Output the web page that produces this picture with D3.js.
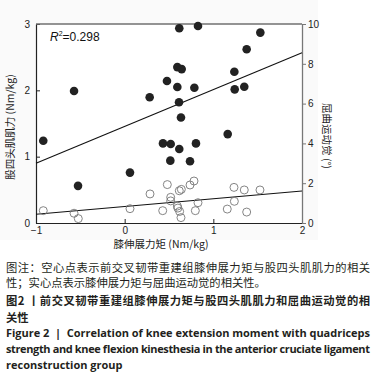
<!DOCTYPE html>
<html><head><meta charset="utf-8">
<script src="https://cdn.jsdelivr.net/npm/d3@7"></script>
<style>
html,body{margin:0;padding:0;background:#fff;}
svg{display:block;}
</style></head>
<body>
<script>
// Filled points: knee extension moment vs quadriceps strength (left axis)
const filledX = [0.616,0.827,1.53,1.376,0.594,0.643,1.237,0.477,-0.571,0.594,0.786,1.241,1.349,0.282,0.613,0.635,-0.918,0.432,0.519,0.804,1.162,0.616,0.515,0.737,0.060,-0.526];
const filledY = [2.935,2.97,2.87,2.62,2.35,2.32,2.28,2.14,1.99,2.05,2.04,2.015,2.055,1.895,1.82,1.59,1.24,1.20,1.19,1.20,1.34,1.115,0.94,0.93,0.76,0.56];
// Hollow points: knee extension moment vs flexion kinesthesia (right axis)
const hollowX = [-0.918,-0.571,-0.523,0.060,0.286,0.429,0.481,0.519,0.519,0.594,0.600,0.620,0.635,0.616,0.639,0.737,0.782,0.797,0.827,1.157,1.233,1.237,1.349,1.376,1.526];
const hollowY = [0.62,0.49,0.22,0.72,1.46,0.62,1.93,1.29,1.11,0.85,0.75,0.58,0.27,1.62,1.69,1.91,2.11,0.62,1.02,0.70,1.79,1.09,1.66,0.55,1.66];
// Regression line endpoints
const fitX = [-1, 2];
const fitFilled = [0.90, 2.567];
const fitHollow = [0.44, 1.61];
// Ticks
const xTicks = [-1,0,1,2];
const leftTicks = [0,1,2,3];
const rightTicks = [0,2,4,6,8,10];
const r2Text = "=0.298";
const xTitle = "膝伸展力矩 (Nm/kg)";
const leftTitle = "股四头肌肌力 (Nm/kg)";
const rightTitle = "屈曲运动觉 (°)";
const captionLines = [
  {t:"图注：空心点表示前交叉韧带重建组膝伸展力矩与股四头肌肌力的相关", bold:false, just:true},
  {t:"性；实心点表示膝伸展力矩与屈曲运动觉的相关性。", bold:false, just:false},
  {t:"图2 丨前交叉韧带重建组膝伸展力矩与股四头肌肌力和屈曲运动觉的相", bold:true, just:true},
  {t:"关性", bold:true, just:false},
  {t:"Figure 2\u00a0\u00a0|\u00a0\u00a0Correlation of knee extension moment with quadriceps", bold:true, just:true, en:true},
  {t:"strength and knee flexion kinesthesia in the anterior cruciate ligament", bold:true, just:true, en:true},
  {t:"reconstruction group", bold:true, just:false, en:true}
];

const W = 382, H = 386;
const svg = d3.select("body").append("svg").attr("width", W).attr("height", H);
svg.append("rect").attr("x",0).attr("y",0).attr("width",318).attr("height",240).attr("fill","#fafafa");

const x = d3.scaleLinear().domain([-1,2]).range([36,302]);
const yL = d3.scaleLinear().domain([0,3]).range([223,24]);
const yR = d3.scaleLinear().domain([0,10]).range([223,24]);

svg.append("rect").attr("x",x(-1)).attr("y",yL(3)).attr("width",x(2)-x(-1)).attr("height",yL(0)-yL(3)).attr("fill","#fff");

const fontAx = "'Liberation Sans', Arial, sans-serif";

const gL = svg.append("g").attr("transform",`translate(${x(-1)},0)`)
  .call(d3.axisLeft(yL).tickValues(leftTicks).tickFormat(d3.format("d")).tickSizeInner(-4).tickSizeOuter(0).tickPadding(6));
const gB = svg.append("g").attr("transform",`translate(0,${yL(0)})`)
  .call(d3.axisBottom(x).tickValues(xTicks).tickFormat(d3.format("d")).tickSizeInner(-4).tickSizeOuter(0).tickPadding(4));
const gR = svg.append("g").attr("transform",`translate(${x(2)},0)`)
  .call(d3.axisRight(yR).tickValues(rightTicks).tickFormat(d3.format("d")).tickSizeInner(4).tickSizeOuter(0).tickPadding(2));
[gL,gB,gR].forEach(g=>{
  g.selectAll("text").attr("font-family",fontAx).attr("font-size",10).attr("fill","#222");
});
gL.select(".domain").attr("stroke","#222").attr("stroke-width",1.2);
gB.select(".domain").attr("stroke","#222").attr("stroke-width",1.2);
gR.select(".domain").attr("stroke","#777").attr("stroke-width",1.3);
gL.selectAll(".tick line").attr("stroke","#222");
gB.selectAll(".tick line").attr("stroke","#222");
gR.selectAll(".tick line").attr("stroke","#777");
svg.append("line").attr("x1",x(-1)).attr("x2",x(2)).attr("y1",yL(3)).attr("y2",yL(3)).attr("stroke","#707070").attr("stroke-width",1.6);

svg.append("line").attr("x1",x(fitX[0])).attr("x2",x(fitX[1])).attr("y1",yL(fitFilled[0])).attr("y2",yL(fitFilled[1])).attr("stroke","#111").attr("stroke-width",1.1);
svg.append("line").attr("x1",x(fitX[0])).attr("x2",x(fitX[1])).attr("y1",yR(fitHollow[0])).attr("y2",yR(fitHollow[1])).attr("stroke","#111").attr("stroke-width",1.1);

svg.append("g").selectAll("circle").data(d3.range(hollowX.length)).join("circle")
  .attr("cx",i=>x(hollowX[i])).attr("cy",i=>yR(hollowY[i])).attr("r",4)
  .attr("fill","none").attr("stroke","#777").attr("stroke-width",0.9);
svg.append("g").selectAll("circle").data(d3.range(filledX.length)).join("circle")
  .attr("cx",i=>x(filledX[i])).attr("cy",i=>yL(filledY[i])).attr("r",4.3)
  .attr("fill","#222");

const r2 = svg.append("text").attr("x",50).attr("y",41).attr("font-family",fontAx).attr("font-size",12).attr("fill","#111");
r2.append("tspan").attr("font-style","italic").text("R");
r2.append("tspan").attr("font-size",7).attr("dy",-5).text("2");
r2.append("tspan").attr("dy",5).text(r2Text);

const cjk = "'Noto Sans CJK SC', 'Noto Sans', sans-serif";
svg.append("text").attr("x",161).attr("y",248).attr("text-anchor","middle").attr("font-family",cjk).attr("font-size",10.5).attr("fill","#222").text(xTitle);
svg.append("text").attr("transform","translate(14,127) rotate(-90)").attr("text-anchor","middle").attr("font-family",cjk).attr("font-size",10.5).attr("fill","#222").text(leftTitle);
svg.append("text").attr("transform","translate(323,136) rotate(90)").attr("text-anchor","middle").attr("font-family",cjk).attr("font-size",10.5).attr("fill","#222").text(rightTitle);

const baselines = [272,287,305,322,337,353,369];
captionLines.forEach((c,i)=>{
  const t = svg.append("text").attr("x",6).attr("y",baselines[i])
    .attr("font-family", c.en ? "'Open Sans', 'DejaVu Sans', sans-serif" : cjk)
    .attr("font-size", c.en ? 11 : 11.3)
    .attr("font-weight", c.bold ? "bold" : "normal")
    .attr("fill", "#231f20")
    .text(c.t);
  if (c.just) t.attr("textLength",364).attr("lengthAdjust","spacing");
});
</script>
</body></html>
